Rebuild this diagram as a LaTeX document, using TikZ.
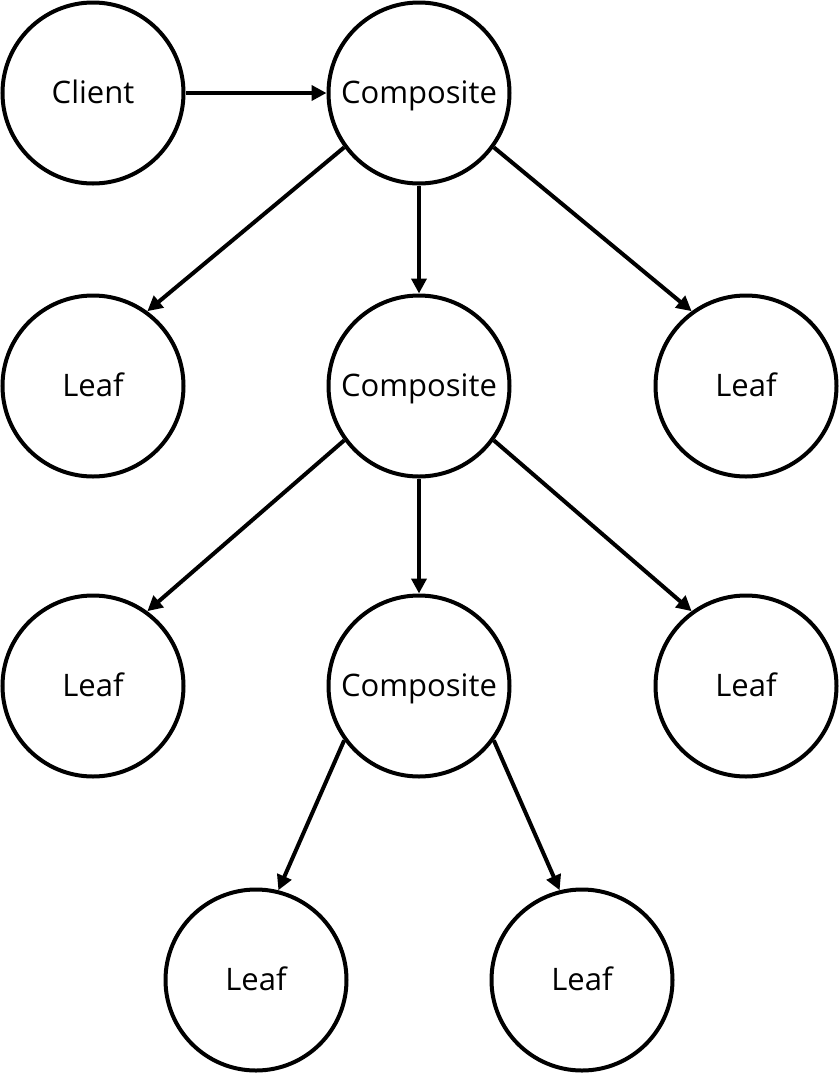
\documentclass[tikz,border=0pt]{standalone}
\usepackage{fontspec}
\setmainfont{Open Sans}
\usetikzlibrary{arrows.meta}
\begin{document}
\begin{tikzpicture}[x=1pt,y=1pt,
  circ/.style={draw=black,line width=4pt,circle,minimum size=181pt,inner sep=0pt,text height=26pt,text depth=6pt,font=\fontsize{31}{37}\selectfont},
  conn/.style={line width=4pt,-{Triangle[length=15pt,width=15pt]}}]
\useasboundingbox (0,0) rectangle (839,-1077);
\node[circ] (client) at (93,-93) {Client};
\node[circ] (c1) at (419,-93) {Composite};
\node[circ] (l1) at (93,-386) {Leaf};
\node[circ] (c2) at (419,-386) {Composite};
\node[circ] (l2) at (746,-386) {Leaf};
\node[circ] (l3) at (93,-686) {Leaf};
\node[circ] (c3) at (419,-686) {Composite};
\node[circ] (l4) at (746,-686) {Leaf};
\node[circ] (l5) at (256,-980) {Leaf};
\node[circ] (l6) at (582,-980) {Leaf};
\draw[conn] (client) -- (c1);
\draw[conn] (c1.216) -- (l1.54);
\draw[conn] (c1) -- (c2);
\draw[conn] (c1.-36) -- (l2.126);
\draw[conn] (c2.216) -- (l3.54);
\draw[conn] (c2) -- (c3);
\draw[conn] (c2.-36) -- (l4.126);
\draw[conn] (c3.216) -- (l5.76);
\draw[conn] (c3.-36) -- (l6.104);
\end{tikzpicture}
\end{document}
